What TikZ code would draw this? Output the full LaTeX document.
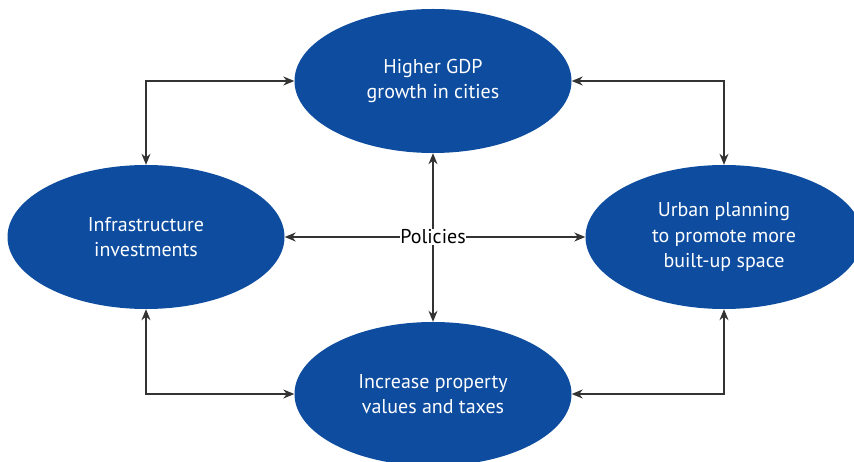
\documentclass[tikz,border=0pt]{standalone}
\usepackage{fontspec}
\setmainfont{PT Sans}
\usetikzlibrary{shapes.geometric,arrows.meta}
\definecolor{azul}{HTML}{0D4C9F}
\definecolor{linea}{HTML}{333333}
\begin{document}
\begin{tikzpicture}[
    x=1pt, y=-1pt,
    elipse/.style={ellipse, fill=azul, text=white, align=center, inner sep=0pt,
                   minimum width=277pt, minimum height=144pt, font=\fontsize{20}{25.5}\selectfont},
    centro/.style={inner sep=0.5pt, font=\fontsize{20}{22}\selectfont},
    flujo/.style={-{Stealth[length=11pt,width=9pt,inset=3.5pt]}, draw=linea, line width=1.2pt},
    doble/.style={{Stealth[length=11pt,width=9pt,inset=3.5pt]}-{Stealth[length=11pt,width=9pt,inset=3.5pt]},
                  draw=linea, line width=1.2pt}
  ]
  \useasboundingbox (0,0) rectangle (854,462);
  \clip (0,0) rectangle (854,462);

  \node[elipse] (pib) at (433,81) {Higher GDP\\ growth in cities};
  \node[elipse] (infra) at (146,237) {Infrastructure\\ investments};
  \node[elipse] (urb) at (724,237) {Urban planning\\ to promote more\\ built-up space};
  \node[elipse] (prop) at (433,394) {Increase property\\ values and taxes};

  \node[centro] (pol) at (433,237) {Policies};

  \draw[flujo] (pol) -- (pib);
  \draw[flujo] (pol) -- (prop);
  \draw[flujo] (pol) -- (infra);
  \draw[flujo] (pol) -- (urb);

  \draw[doble] (pib.west) -| (infra.north);
  \draw[doble] (pib.east) -| (urb.north);
  \draw[doble] (prop.west) -| (infra.south);
  \draw[doble] (prop.east) -| (urb.south);
\end{tikzpicture}
\end{document}
